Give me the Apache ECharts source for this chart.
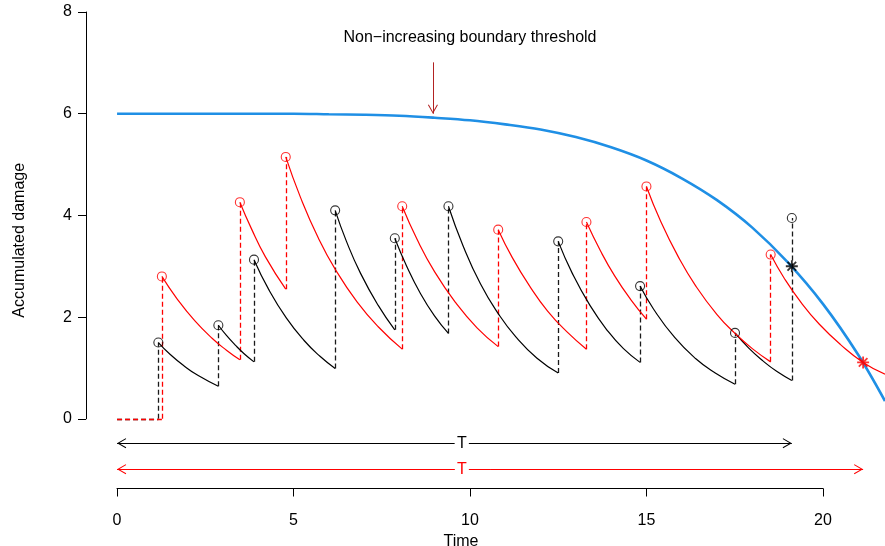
<!DOCTYPE html>
<html>
<head>
<meta charset="utf-8">
<script src="https://cdn.jsdelivr.net/npm/echarts@6/dist/echarts.min.js"></script>
<style>
  html, body { margin: 0; padding: 0; background: #ffffff; }
  #chart { width: 885px; height: 546px; }
</style>
</head>
<body>
<div id="chart"></div>
<script>
// Non-increasing boundary threshold h(t)
const thresholdTimes  = [0, 1, 2, 3, 4, 5, 6, 7, 8, 9, 10, 11, 12, 13, 14, 15, 16, 17, 18, 19, 20, 21, 21.76];
const thresholdValues = [6.00, 6.00, 6.00, 6.00, 6.00, 6.00, 5.99, 5.98, 5.96, 5.92, 5.87, 5.79, 5.69, 5.54, 5.34, 5.08, 4.73, 4.30, 3.76, 3.08, 2.26, 1.26, 0.35];

// Process 1 (black): shock times, damage level right after each shock,
// and the recovering damage path until the next shock
const blackShockTimes = [1.17, 2.87, 3.88, 6.18, 7.87, 9.39, 12.50, 14.82, 17.51, 19.12];
const blackPeaks      = [1.50, 1.84, 3.13, 4.10, 3.55, 4.18, 3.49, 2.61, 1.69, 3.95];
const blackDecay = [
  [[1.5, 1.27], [1.9, 1.04], [2.3, 0.85], [2.87, 0.64]],
  [[3.1, 1.64], [3.35, 1.45], [3.6, 1.28], [3.88, 1.12]],
  [[4.3, 2.54], [4.8, 1.98], [5.3, 1.54], [5.75, 1.23], [6.18, 0.99]],
  [[6.5, 3.49], [6.9, 2.86], [7.4, 2.23], [7.87, 1.75]],
  [[8.2, 3.01], [8.6, 2.46], [9.0, 2.02], [9.39, 1.68]],
  [[9.8, 3.41], [10.3, 2.65], [10.8, 2.07], [11.3, 1.61], [11.9, 1.19], [12.5, 0.90]],
  [[12.9, 2.86], [13.4, 2.23], [13.9, 1.73], [14.35, 1.38], [14.82, 1.11]],
  [[15.2, 2.16], [15.8, 1.60], [16.4, 1.18], [16.95, 0.90], [17.51, 0.68]],
  [[17.9, 1.39], [18.3, 1.14], [18.7, 0.93], [19.12, 0.755]]
];
const blackFailure = [19.12, 3.00];

// Process 2 (red)
const redShockTimes = [1.27, 3.48, 4.78, 8.08, 10.80, 13.30, 15.00, 18.52];
const redPeaks      = [2.80, 4.26, 5.15, 4.18, 3.72, 3.87, 4.57, 3.23];
const redDecay = [
  [[1.7, 2.36], [2.2, 1.93], [2.7, 1.58], [3.1, 1.35], [3.48, 1.16]],
  [[3.8, 3.75], [4.2, 3.19], [4.78, 2.55]],
  [[5.2, 4.35], [5.7, 3.56], [6.2, 2.92], [6.8, 2.30], [7.4, 1.81], [8.08, 1.37]],
  [[8.5, 3.53], [9.0, 2.89], [9.6, 2.28], [10.2, 1.79], [10.8, 1.42]],
  [[11.2, 3.17], [11.7, 2.60], [12.2, 2.12], [12.75, 1.71], [13.3, 1.37]],
  [[13.7, 3.30], [14.1, 2.81], [14.55, 2.35], [15.0, 1.96]],
  [[15.4, 3.89], [15.9, 3.19], [16.4, 2.61], [17.0, 2.05], [17.51, 1.68], [18.0, 1.38], [18.52, 1.12]],
  [[18.9, 2.77], [19.4, 2.27], [19.9, 1.86], [20.5, 1.46], [21.14, 1.11], [21.76, 0.88]]
];
const redFailure = [21.14, 1.11];

// Lifetime arrows (start, end, height) and annotation
const lifetimeBlack = [0, 19.12, -0.48];
const lifetimeRed   = [0, 21.14, -0.99];
const lifetimeLabel = 'T';
const lifetimeLabelX = 9.77;
const thresholdNote = 'Non\u2212increasing boundary threshold';
const thresholdNotePos = [10.0, 7.49];
const thresholdArrow = [8.95, 7.01, 6.0];

// Axis ticks
const xTicks = [0, 5, 10, 15, 20];
const yTicks = [0, 2, 4, 6, 8];

const FONT = 'Liberation Sans, Arial, Helvetica, sans-serif';
const BLUE = '#1f8fe5';
const RED = '#ff0000';
const DARKRED = '#b22222';

// open arrow head (tip at the symbol centre)
const arrowHead = 'path://M0,0 L-5,8.66 L-4.134,9.16 L0,2 L4.134,9.16 L5,8.66 Z M-0.05,-9.16 L0.05,-9.16 L0,-9.12 Z';
const arrowSize = [10, 18.32];
// asterisk marker
const asterisk = 'path://M0,-5 L0,5 M-5,0 L5,0 M-3.6,-3.6 L3.6,3.6 M-3.6,3.6 L3.6,-3.6';

const series = [];

series.push({
  type: 'line', name: 'threshold', xAxisIndex: 0, yAxisIndex: 0,
  data: thresholdTimes.map((t, i) => [t, thresholdValues[i]]),
  smooth: 0.35, showSymbol: false, symbol: 'none', z: 2,
  lineStyle: { color: BLUE, width: 2.6 }
});

function addProcess(times, peaks, decay, color, dashColor) {
  const jumps = [];
  jumps.push({ coords: [[0, 0], [times[0], 0]] });
  times.forEach((t, i) => {
    const before = i === 0 ? 0 : decay[i - 1][decay[i - 1].length - 1][1];
    jumps.push({ coords: [[t, before], [t, peaks[i]]] });
  });
  series.push({
    type: 'lines', coordinateSystem: 'cartesian2d', xAxisIndex: 0, yAxisIndex: 0,
    data: jumps, z: 3, silent: true,
    lineStyle: { color: dashColor, width: 1.3, type: [5, 3], opacity: 1 }
  });
  decay.forEach((seg, i) => {
    series.push({
      type: 'line', xAxisIndex: 0, yAxisIndex: 0,
      data: [[times[i], peaks[i]]].concat(seg),
      smooth: 0.5, showSymbol: false, symbol: 'none', z: 4,
      lineStyle: { color: color, width: 1.2 }
    });
  });
  series.push({
    type: 'scatter', xAxisIndex: 0, yAxisIndex: 0,
    data: times.map((t, i) => [t, peaks[i]]),
    symbol: 'circle', symbolSize: 9, z: 5,
    itemStyle: { color: 'rgba(0,0,0,0)', borderColor: color, borderWidth: 1.1 }
  });
}

addProcess(blackShockTimes, blackPeaks, blackDecay, '#000000', '#1a1a1a');
addProcess(redShockTimes, redPeaks, redDecay, RED, RED);

series.push({
  type: 'scatter', xAxisIndex: 0, yAxisIndex: 0,
  data: [{ value: blackFailure, itemStyle: { borderColor: '#000000' } },
         { value: redFailure, itemStyle: { borderColor: RED } }],
  symbol: asterisk, symbolSize: 12, z: 6,
  itemStyle: { color: 'none', borderWidth: 1.8 }
});

// arrows
series.push({
  type: 'scatter', xAxisIndex: 0, yAxisIndex: 0, data: [], z: 5,
  markLine: {
    silent: true, animation: false,
    symbol: [arrowHead, arrowHead], symbolSize: arrowSize,
    label: { show: false },
    emphasis: { disabled: true },
    data: [
      [{ coord: [lifetimeBlack[0], lifetimeBlack[2]], lineStyle: { color: '#000', width: 1, type: 'solid' } },
       { coord: [lifetimeBlack[1], lifetimeBlack[2]] }],
      [{ coord: [lifetimeRed[0], lifetimeRed[2]], lineStyle: { color: RED, width: 1, type: 'solid' } },
       { coord: [lifetimeRed[1], lifetimeRed[2]] }],
      [{ coord: [thresholdArrow[0], thresholdArrow[1]], symbol: 'none', lineStyle: { color: DARKRED, width: 1, type: 'solid' } },
       { coord: [thresholdArrow[0], thresholdArrow[2]] }]
    ]
  }
});

// text annotations
series.push({
  type: 'scatter', xAxisIndex: 0, yAxisIndex: 0, data: [], z: 7,
  markPoint: {
    silent: true, animation: false,
    data: [
      { coord: [lifetimeLabelX, lifetimeBlack[2]], symbol: 'rect', symbolSize: [14, 14],
        itemStyle: { color: '#ffffff' },
        label: { show: true, position: 'inside', formatter: lifetimeLabel, color: '#000', fontSize: 16, fontFamily: FONT } },
      { coord: [lifetimeLabelX, lifetimeRed[2]], symbol: 'rect', symbolSize: [14, 14],
        itemStyle: { color: '#ffffff' },
        label: { show: true, position: 'inside', formatter: lifetimeLabel, color: RED, fontSize: 16, fontFamily: FONT } },
      { coord: thresholdNotePos, symbol: 'rect', symbolSize: 1,
        itemStyle: { color: 'rgba(0,0,0,0)' },
        label: { show: true, position: 'inside', formatter: thresholdNote, color: '#000', fontSize: 16, fontFamily: FONT } }
    ]
  }
});

const option = {
  animation: false,
  backgroundColor: '#ffffff',
  textStyle: { fontFamily: FONT },
  grid: [
    { left: 86, right: 0, top: 12, bottom: 57.5, outerBoundsMode: 'none', containLabel: false },
    { left: 117, right: 62, top: 12, bottom: 57.5, outerBoundsMode: 'none', containLabel: false },
    { left: 86, right: 0, top: 12, height: 406.8, outerBoundsMode: 'none', containLabel: false }
  ],
  xAxis: [
    { gridIndex: 0, type: 'value', min: -0.88, max: 21.76, show: false },
    { gridIndex: 1, type: 'value', min: xTicks[0], max: xTicks[xTicks.length - 1], interval: 5,
      axisLine: { show: true, onZero: false, lineStyle: { color: '#000', width: 1 } },
      axisTick: { show: true, inside: false, length: 8, lineStyle: { color: '#000', width: 1 } },
      axisLabel: { show: true, color: '#000', fontSize: 16, fontFamily: FONT, margin: 24 },
      splitLine: { show: false },
      name: 'Time', nameLocation: 'middle', nameGap: 38,
      nameTextStyle: { color: '#000', fontSize: 16, fontFamily: FONT, padding: [0, 18, 0, 0] } },
    { gridIndex: 2, type: 'value', min: 0, max: 1, show: false }
  ],
  yAxis: [
    { gridIndex: 0, type: 'value', min: -1.37, max: 8,
      axisLine: { show: false }, axisTick: { show: false }, axisLabel: { show: false }, splitLine: { show: false },
      name: 'Accumulated damage', nameLocation: 'middle', nameGap: 58, nameRotate: 90,
      nameTextStyle: { color: '#000', fontSize: 16, fontFamily: FONT, padding: [0, 0, 0, 20] } },
    { gridIndex: 1, type: 'value', min: 0, max: 1, show: false },
    { gridIndex: 2, type: 'value', min: yTicks[0], max: yTicks[yTicks.length - 1], interval: 2,
      axisLine: { show: true, onZero: false, lineStyle: { color: '#000', width: 1 } },
      axisTick: { show: true, inside: false, length: 8, lineStyle: { color: '#000', width: 1 } },
      axisLabel: { show: true, color: '#000', fontSize: 16, fontFamily: FONT, margin: 14 },
      splitLine: { show: false } }
  ],
  series: series
};

const chart = echarts.init(document.getElementById('chart'), null, { renderer: 'canvas' });
chart.setOption(option);
</script>
</body>
</html>
